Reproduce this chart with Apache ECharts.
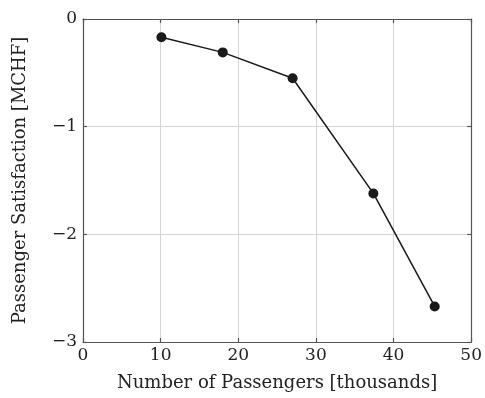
<!DOCTYPE html>
<html><head><meta charset="utf-8">
<script src="https://cdn.jsdelivr.net/npm/echarts@6/dist/echarts.min.js"></script>
<style>html,body{margin:0;padding:0;background:#fff}#c{width:485px;height:398px}</style>
</head><body><div id="c"></div>
<script>
const passengers = [10.1, 18.0, 27.0, 37.4, 45.3];
const satisfaction = [-0.17, -0.31, -0.55, -1.62, -2.67];
const xTitle = 'Number of Passengers [thousands]';
const yTitle = 'Passenger Satisfaction [MCHF]';
const FONT = 'DejaVu Serif';
const chart = echarts.init(document.getElementById('c'), null, {renderer:'canvas'});
const axisLineStyle = {color:'#555', width:1.2};
const fmtY = v => (v < 0 ? '\u2212' + Math.abs(v) : String(v));
chart.setOption({
  animation:false,
  grid:{left:83, right:13, top:19, bottom:56, show:false},
  xAxis:[{
    type:'value', min:0, max:50, interval:10, position:'bottom',
    name:xTitle, nameLocation:'middle', nameGap:32,
    nameTextStyle:{fontFamily:FONT, fontSize:18, color:'#222'},
    axisLine:{show:true, onZero:false, lineStyle:axisLineStyle},
    axisTick:{show:true, inside:true, length:4, lineStyle:axisLineStyle},
    axisLabel:{fontFamily:FONT, fontSize:17, color:'#222', margin:5},
    splitLine:{show:true, lineStyle:{color:'#d4d4d4', width:1}}
  },{
    type:'value', min:0, max:50, interval:10, position:'top',
    axisLine:{show:true, onZero:false, lineStyle:axisLineStyle},
    axisTick:{show:true, inside:true, length:4, lineStyle:axisLineStyle},
    axisLabel:{show:false}, splitLine:{show:false}
  }],
  yAxis:[{
    type:'value', min:-3, max:0, interval:1, position:'left',
    name:yTitle, nameLocation:'middle', nameGap:54, nameRotate:90,
    nameTextStyle:{fontFamily:FONT, fontSize:18, color:'#222'},
    axisLine:{show:true, onZero:false, lineStyle:axisLineStyle},
    axisTick:{show:true, inside:true, length:4, lineStyle:axisLineStyle},
    axisLabel:{fontFamily:FONT, fontSize:17, color:'#222', margin:6, formatter:fmtY},
    splitLine:{show:true, lineStyle:{color:'#d4d4d4', width:1}}
  },{
    type:'value', min:-3, max:0, interval:1, position:'right',
    axisLine:{show:true, onZero:false, lineStyle:axisLineStyle},
    axisTick:{show:true, inside:true, length:4, lineStyle:axisLineStyle},
    axisLabel:{show:false}, splitLine:{show:false}
  }],
  series:[{
    type:'line', xAxisIndex:0, yAxisIndex:0,
    data: passengers.map((x,i)=>[x, satisfaction[i]]),
    symbol:'circle', symbolSize:10,
    lineStyle:{color:'#1a1a1a', width:1.5},
    itemStyle:{color:'#1a1a1a'}
  }]
});
</script></body></html>
